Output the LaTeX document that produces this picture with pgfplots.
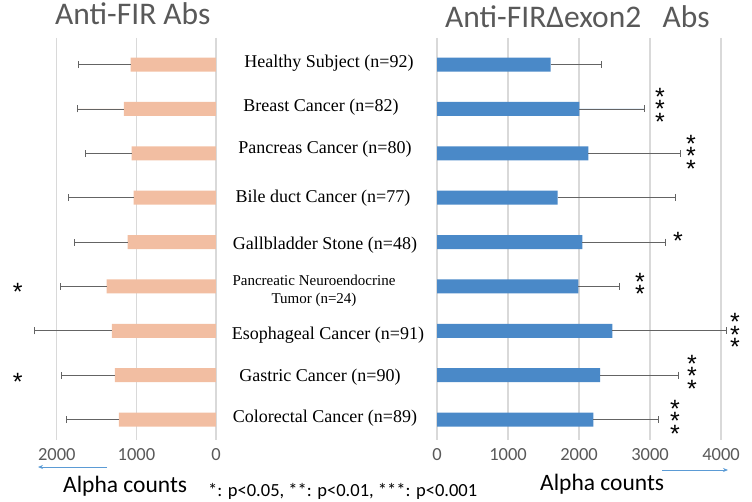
\documentclass[border=0pt]{standalone}
\usepackage{pgfplots}
\pgfplotsset{compat=1.18}
\usepackage{pgfplotstable}
\usepackage{fontspec}
\setmainfont{Liberation Serif}
\newfontfamily\calfont{Carlito}
\newfontfamily\starfont{Liberation Sans}
\newcommand\starsetup{\starfont\fontsize{25}{12.5}\selectfont\lineskiplimit=-100pt\relax\lineskip=0pt\relax}
\usetikzlibrary{arrows.meta}
\definecolor{peach}{RGB}{242,190,162}
\definecolor{barblue}{RGB}{74,137,200}
\definecolor{gridgray}{RGB}{217,217,217}
\definecolor{txtgray}{RGB}{89,89,89}
\definecolor{errgray}{RGB}{100,100,100}
\definecolor{arrowblue}{RGB}{91,155,213}

% left panel: Anti-FIR Abs (mean, upper error)
\pgfplotstableread{
i m e
0 1073 659
1 1157 588
2 1060 579
3 1035 823
4 1111 671
5 1375 579
6 1308 969
7 1270 671
8 1220 654
}\leftdata
% right panel: Anti-FIR delta exon2 Abs
\pgfplotstableread{
i m e
0 1601 709
1 2005 910
2 2131 1301
3 1700 1661
4 2047 1174
5 1991 577
6 2469 1611
7 2296 1103
8 2202 915
}\rightdata

\tikzset{star/.style={font=\starsetup, align=center, inner sep=0pt, anchor=center, yshift=-4pt}}
\pgfplotsset{
 common/.style={
  scale only axis, xbar, bar width=14pt,
  y dir=reverse, ymin=-0.6, ymax=8.46, ytick=\empty,
  height=402pt, anchor=south west,
  axis line style={draw=none}, major tick length=0pt,
  xmajorgrids, grid style={gridgray, line width=1.2pt},
  xticklabel style={font=\calfont\fontsize{18.5}{18.5}\selectfont, text=txtgray, yshift=-5pt},
  /pgf/number format/assume math mode=true,
  /pgf/number format/set thousands separator={},
  clip=false,
  error bars/x dir=plus, error bars/x explicit,
  error bars/error mark=|,
  error bars/error bar style={draw=errgray, line width=0.8pt},
  error bars/error mark options={draw=errgray, mark size=3.5pt, line width=0.8pt},
 },
}

\begin{document}
\begin{tikzpicture}[x=1pt,y=1pt]
\useasboundingbox (0,0) rectangle (752,501);
\begin{axis}[common, at={(17pt,61pt)}, width=199pt,
  xmin=0, xmax=2500, x dir=reverse, xtick={0,1000,2000}]
\addplot[fill=peach, draw=none] table[x=m, y=i, x error=e] {\leftdata};
\node[star] at (axis cs:2490,5.03) {*};
\node[star] at (axis cs:2490,7.06) {*};
\end{axis}
\begin{axis}[common, at={(437pt,61pt)}, width=312.4pt,
  xmin=0, xmax=4400, xtick={0,1000,2000,3000,4000}]
\addplot[fill=barblue, draw=none] table[x=m, y=i, x error=e] {\rightdata};
\node[star] at (axis cs:3141,0.91) {*\\*\\*};
\node[star] at (axis cs:3577,1.97) {*\\*\\*};
\node[star] at (axis cs:3394,3.885) {*};
\node[star] at (axis cs:2859,4.94) {*\\*};
\node[star] at (axis cs:4197,5.99) {*\\*\\*};
\node[star] at (axis cs:3592,6.93) {*\\*\\*};
\node[star] at (axis cs:3352,7.94) {*\\*\\*};
\end{axis}
% titles
\node[anchor=base west, inner sep=0pt, font=\calfont\fontsize{31.5}{31.5}\selectfont, text=txtgray] at (55,476) {Anti-FIR Abs};
\node[anchor=base west, inner sep=0pt, font=\calfont\fontsize{31.5}{31.5}\selectfont, text=txtgray] at (445,473) {Anti-FIRΔexon2\ \ \ Abs};
% category labels
\begin{scope}[every node/.style={font=\fontsize{18}{18}\selectfont, inner sep=0pt, anchor=center}]
\node at (329,438) {Healthy Subject (n=92)};
\node at (321,394) {Breast Cancer (n=82)};
\node at (325,352) {Pancreas Cancer (n=80)};
\node at (323,303) {Bile duct Cancer (n=77)};
\node at (325,256) {Gallbladder Stone (n=48)};
\node[font=\fontsize{15}{18}\selectfont, align=center] at (314,210) {Pancreatic Neuroendocrine\\Tumor (n=24)};
\node at (328,166) {Esophageal Cancer (n=91)};
\node at (320,124) {Gastric Cancer (n=90)};
\node at (325,83) {Colorectal Cancer (n=89)};
\end{scope}
% axis captions
\node[anchor=base west, inner sep=0pt, font=\calfont\fontsize{23.5}{23.5}\selectfont] at (63,9) {Alpha counts};
\node[anchor=base west, inner sep=0pt, font=\calfont\fontsize{23.5}{23.5}\selectfont] at (540,11) {Alpha counts};
\node[anchor=base west, inner sep=0pt, font=\calfont\fontsize{18.5}{18.5}\selectfont] at (208,5) {*: p<0.05, **: p<0.01, ***: p<0.001};
\draw[arrowblue, line width=0.8pt, -{Stealth[length=5pt,width=4pt]}] (107,34) -- (38,34);
\draw[arrowblue, line width=0.8pt, -{Stealth[length=5pt,width=4pt]}] (662,31) -- (728,31);
\end{tikzpicture}
\end{document}
